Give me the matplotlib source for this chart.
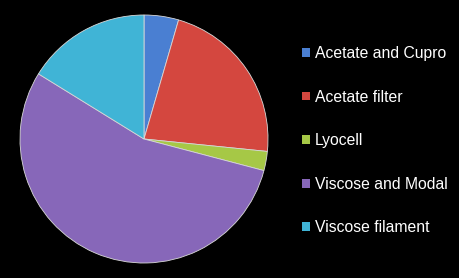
import matplotlib
matplotlib.use('Agg')
import matplotlib.pyplot as plt

BG = '#000000'
plt.rcParams.update({
    'figure.facecolor': BG, 'savefig.facecolor': BG,
    'font.family': ['Liberation Sans', 'DejaVu Sans'],
})

labels = ['Acetate and Cupro', 'Acetate filter', 'Lyocell', 'Viscose and Modal', 'Viscose filament']
shares = [4.5, 22.1, 2.5, 54.7, 16.2]
colors = ['#4a7fd2', '#d4473f', '#a6c846', '#8767b9', '#40b4d6']

W, H = 460, 278
fig = plt.figure(figsize=(W / 100, H / 100), dpi=100)

cx, cy, r = 144, 139, 124
ax = fig.add_axes([(cx - r) / W, (H - cy - r) / H, 2 * r / W, 2 * r / H])
wedges, _ = ax.pie(shares, colors=colors, startangle=90, counterclock=False,
                   wedgeprops=dict(edgecolor='#d8d8d8', linewidth=0.6))
ax.set_xlim(-1, 1); ax.set_ylim(-1, 1)
ax.set_aspect('equal')

leg = fig.legend(wedges, labels, loc='upper left', bbox_to_anchor=(302 / W, 1 - 46 / H),
                 frameon=False, fontsize=11.3, labelcolor='white',
                 handlelength=0.5, handleheight=0.5, handletextpad=0.3,
                 labelspacing=1.82, borderpad=0, borderaxespad=0)
for h in leg.legend_handles:
    h.set_edgecolor('none')

fig.savefig('out.png', dpi=100)
